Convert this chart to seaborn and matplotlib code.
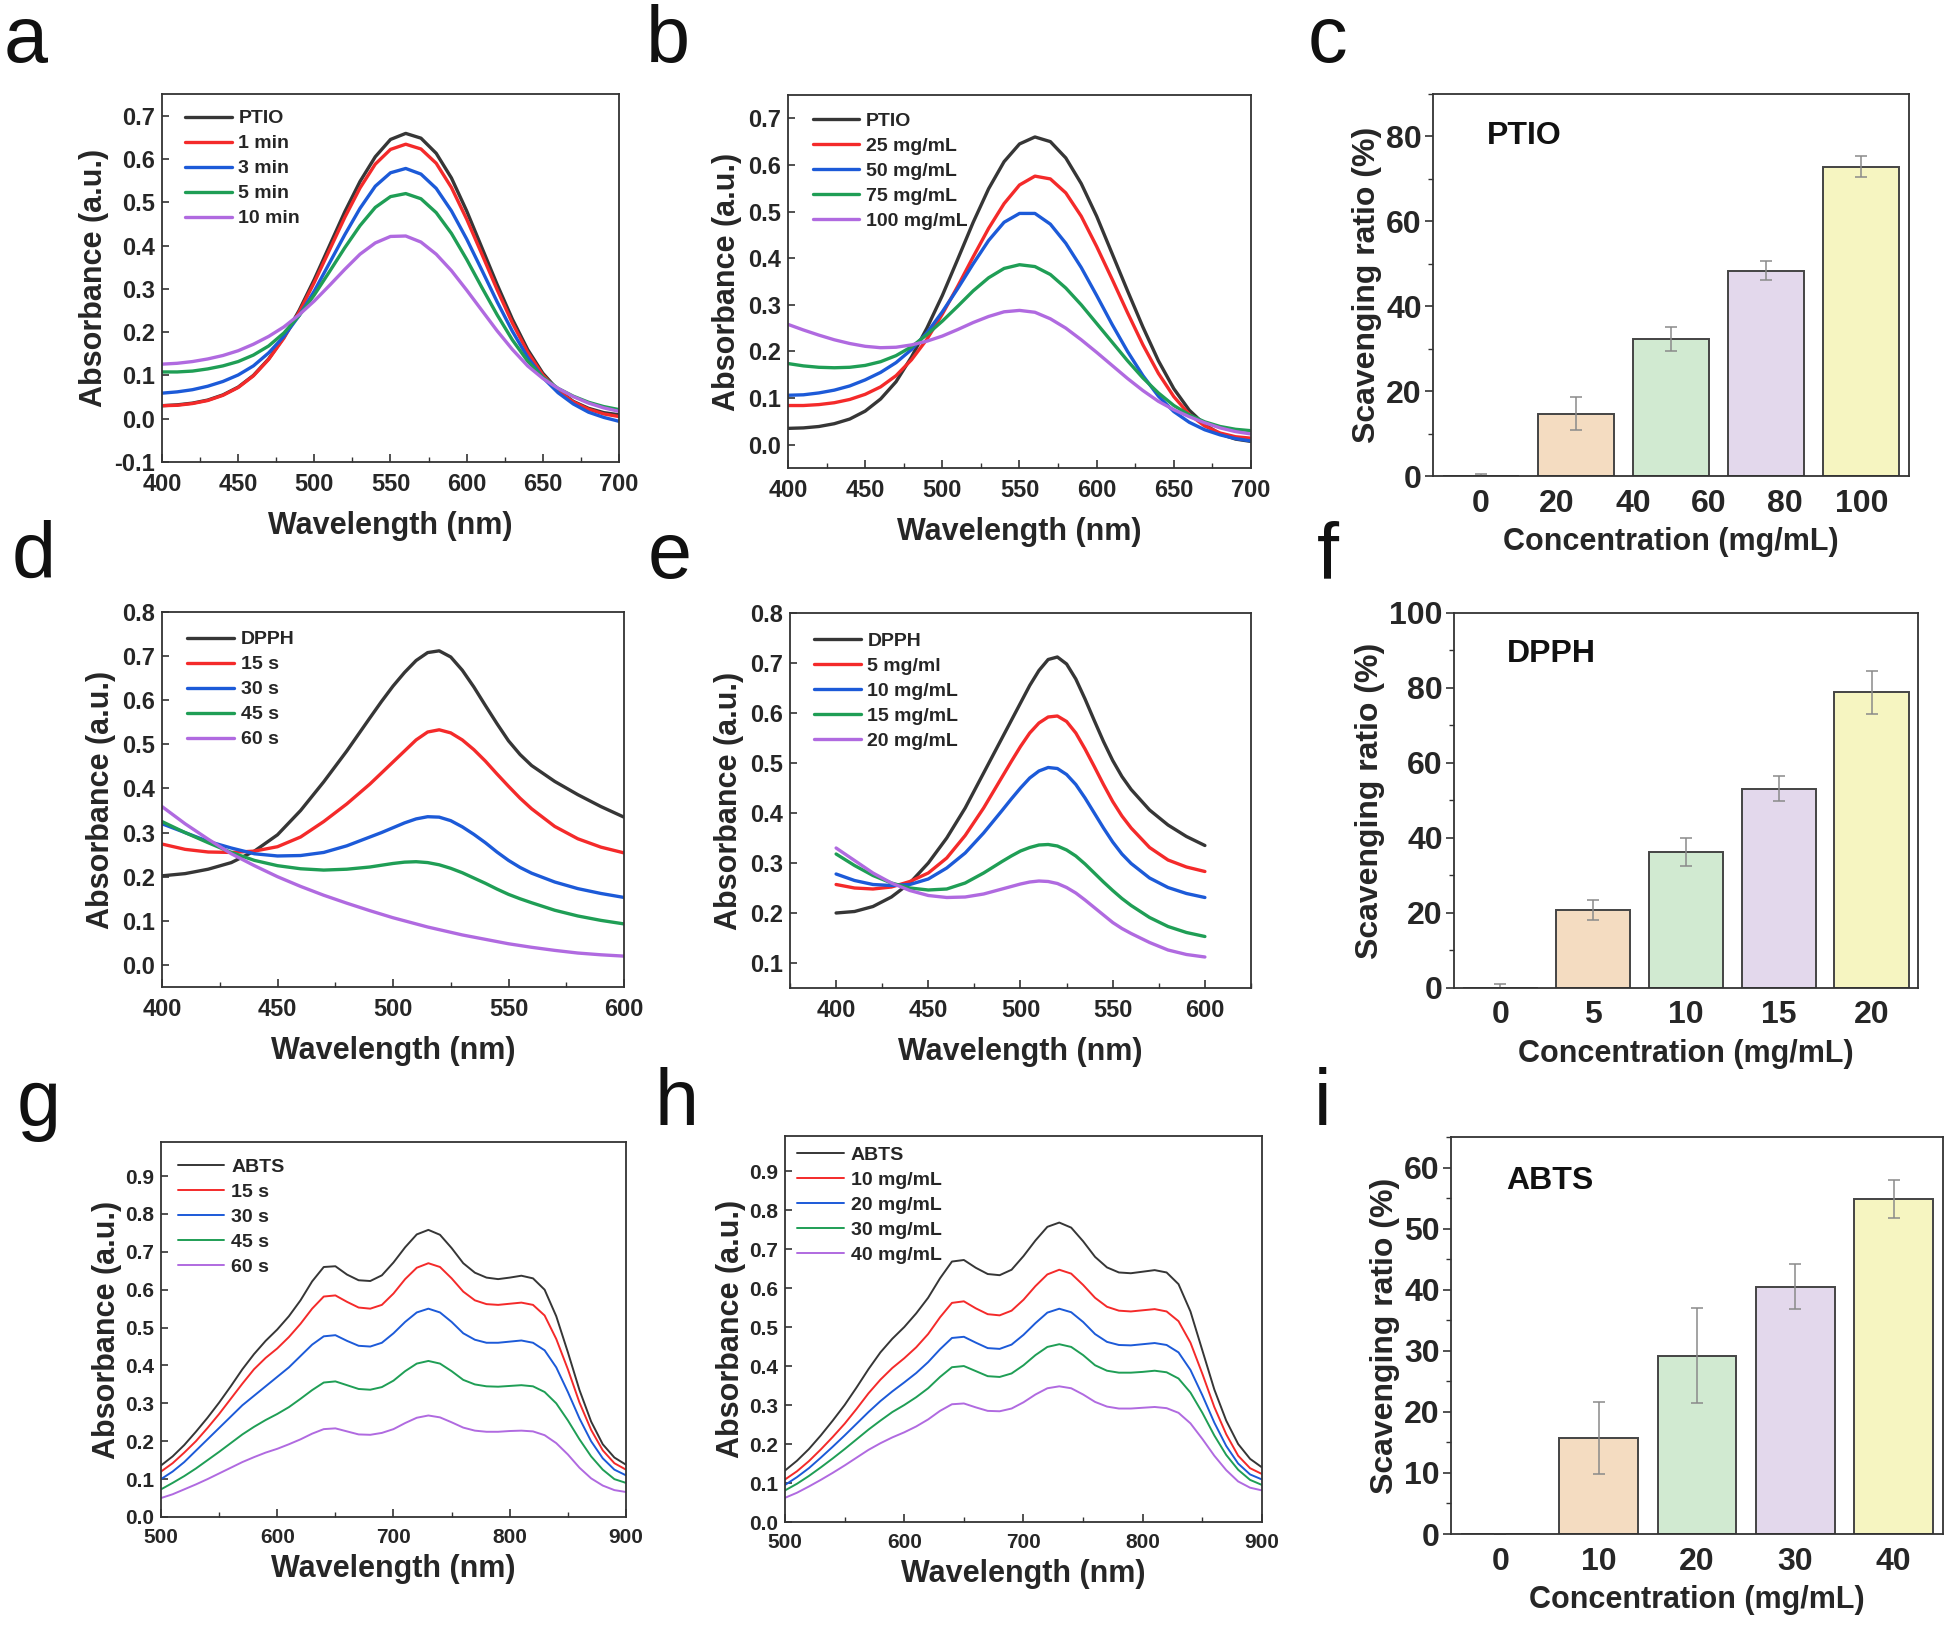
import numpy as np
import matplotlib
matplotlib.use('Agg')
import matplotlib.pyplot as plt
import seaborn as sns
from matplotlib.ticker import MultipleLocator, FormatStrFormatter

sns.set_theme(style='white')
plt.rcParams['font.family'] = ['Liberation Sans', 'DejaVu Sans']
plt.rcParams['font.weight'] = 'bold'
plt.rcParams['axes.labelweight'] = 'bold'
plt.rcParams['axes.unicode_minus'] = False

# ---------------- data ----------------
wl_ab = list(range(400, 701, 10))
wl_de = [400, 410, 420, 430, 440, 450, 460, 470, 480, 490,
         495, 500, 505, 510, 515, 520, 525, 530, 535, 540, 545, 550, 555, 560,
         570, 580, 590, 600]
wl_gh = list(range(500, 901, 10))

# panel a: PTIO vs time
a_labels = ['PTIO', '1 min', '3 min', '5 min', '10 min']
a_ptio = [0.030, 0.032, 0.036, 0.043, 0.055, 0.073, 0.100, 0.138, 0.188, 0.250, 0.322, 0.400, 0.478, 0.548, 0.605, 0.645,
          0.659, 0.648, 0.613, 0.556, 0.480, 0.395, 0.310, 0.230, 0.160, 0.105, 0.066, 0.040, 0.024, 0.014, 0.009]
a_1min = [0.030, 0.031, 0.035, 0.042, 0.054, 0.072, 0.099, 0.137, 0.186, 0.246, 0.315, 0.390, 0.465, 0.533, 0.588, 0.622,
          0.634, 0.623, 0.590, 0.534, 0.461, 0.380, 0.298, 0.221, 0.154, 0.101, 0.064, 0.039, 0.022, 0.011, 0.005]
a_3min = [0.059, 0.062, 0.067, 0.075, 0.086, 0.101, 0.122, 0.152, 0.190, 0.238, 0.295, 0.360, 0.425, 0.486, 0.537, 0.568,
          0.578, 0.565, 0.532, 0.480, 0.415, 0.343, 0.270, 0.202, 0.142, 0.095, 0.060, 0.034, 0.015, 0.003, -0.006]
a_5min = [0.108, 0.108, 0.110, 0.115, 0.122, 0.132, 0.147, 0.168, 0.198, 0.238, 0.286, 0.340, 0.395, 0.446, 0.488, 0.513,
          0.520, 0.508, 0.476, 0.428, 0.368, 0.303, 0.240, 0.182, 0.133, 0.096, 0.070, 0.052, 0.038, 0.028, 0.021]
a_10min = [0.126, 0.128, 0.132, 0.138, 0.146, 0.157, 0.172, 0.190, 0.212, 0.240, 0.272, 0.308, 0.345, 0.380, 0.406, 0.421,
           0.422, 0.408, 0.380, 0.342, 0.297, 0.250, 0.203, 0.160, 0.122, 0.093, 0.070, 0.051, 0.036, 0.025, 0.017]

# panel b: PTIO vs concentration
b_labels = ['PTIO', '25 mg/mL', '50 mg/mL', '75 mg/mL', '100 mg/mL']
b_ptio = [0.035, 0.036, 0.039, 0.045, 0.055, 0.072, 0.098, 0.135, 0.188, 0.250, 0.320, 0.398, 0.477, 0.549, 0.607, 0.645,
          0.660, 0.650, 0.615, 0.560, 0.490, 0.410, 0.330, 0.252, 0.180, 0.120, 0.074, 0.043, 0.023, 0.012, 0.007]
b_25 = [0.084, 0.084, 0.086, 0.090, 0.097, 0.108, 0.124, 0.148, 0.182, 0.226, 0.280, 0.340, 0.403, 0.464, 0.517, 0.557,
        0.576, 0.570, 0.540, 0.490, 0.425, 0.355, 0.283, 0.214, 0.153, 0.103, 0.065, 0.040, 0.025, 0.017, 0.014]
b_50 = [0.106, 0.107, 0.111, 0.117, 0.126, 0.139, 0.155, 0.176, 0.204, 0.240, 0.285, 0.335, 0.388, 0.438, 0.477, 0.496,
        0.496, 0.473, 0.432, 0.380, 0.320, 0.258, 0.200, 0.148, 0.104, 0.071, 0.048, 0.032, 0.021, 0.013, 0.008]
b_75 = [0.174, 0.169, 0.166, 0.165, 0.166, 0.170, 0.178, 0.191, 0.210, 0.236, 0.265, 0.297, 0.330, 0.358, 0.378, 0.386,
        0.382, 0.365, 0.336, 0.300, 0.260, 0.220, 0.180, 0.143, 0.111, 0.084, 0.064, 0.049, 0.039, 0.033, 0.030]
b_100 = [0.258, 0.246, 0.235, 0.225, 0.217, 0.211, 0.208, 0.209, 0.214, 0.222, 0.233, 0.247, 0.262, 0.275, 0.285, 0.288,
         0.284, 0.270, 0.250, 0.225, 0.198, 0.170, 0.142, 0.116, 0.093, 0.075, 0.060, 0.047, 0.036, 0.028, 0.023]

# panel d: DPPH vs time
d_labels = ['DPPH', '15 s', '30 s', '45 s', '60 s']
d_dpph = [0.202, 0.207, 0.217, 0.232, 0.258, 0.295, 0.350, 0.415, 0.485, 0.560,
          0.597, 0.632, 0.663, 0.690, 0.708, 0.712, 0.698, 0.668, 0.630, 0.588, 0.547, 0.508, 0.477, 0.452,
          0.416, 0.386, 0.359, 0.335]
d_15 = [0.274, 0.262, 0.256, 0.255, 0.258, 0.268, 0.290, 0.325, 0.365, 0.410,
        0.435, 0.460, 0.485, 0.510, 0.528, 0.533, 0.526, 0.510, 0.488, 0.462, 0.433, 0.405, 0.378, 0.354,
        0.314, 0.286, 0.267, 0.254]
d_30 = [0.320, 0.300, 0.280, 0.265, 0.252, 0.247, 0.248, 0.255, 0.270, 0.290,
        0.300, 0.311, 0.322, 0.331, 0.336, 0.335, 0.327, 0.313, 0.296, 0.277, 0.256, 0.237, 0.221, 0.208,
        0.188, 0.173, 0.162, 0.153]
d_45 = [0.325, 0.300, 0.277, 0.255, 0.237, 0.225, 0.218, 0.215, 0.217, 0.222,
        0.226, 0.230, 0.233, 0.234, 0.232, 0.227, 0.219, 0.209, 0.197, 0.185, 0.172, 0.160, 0.150, 0.141,
        0.124, 0.111, 0.101, 0.093]
d_60 = [0.359, 0.320, 0.285, 0.252, 0.225, 0.200, 0.178, 0.158, 0.140, 0.123,
        0.115, 0.107, 0.100, 0.093, 0.086, 0.080, 0.074, 0.068, 0.063, 0.058, 0.053, 0.048, 0.044, 0.040,
        0.033, 0.027, 0.023, 0.020]

# panel e: DPPH vs concentration
e_labels = ['DPPH', '5 mg/ml', '10 mg/mL', '15 mg/mL', '20 mg/mL']
e_dpph = [0.200, 0.203, 0.213, 0.232, 0.260, 0.300, 0.350, 0.410, 0.480, 0.550,
          0.585, 0.620, 0.655, 0.685, 0.707, 0.712, 0.698, 0.668, 0.628, 0.585, 0.543, 0.505, 0.473, 0.447,
          0.406, 0.376, 0.353, 0.335]
e_5 = [0.257, 0.250, 0.248, 0.252, 0.263, 0.280, 0.310, 0.355, 0.410, 0.472,
       0.503, 0.533, 0.560, 0.580, 0.592, 0.594, 0.583, 0.560, 0.528, 0.493, 0.457, 0.423, 0.394, 0.370,
       0.331, 0.306, 0.292, 0.283]
e_10 = [0.278, 0.265, 0.257, 0.255, 0.257, 0.268, 0.290, 0.320, 0.360, 0.405,
        0.428, 0.450, 0.470, 0.484, 0.491, 0.489, 0.477, 0.457, 0.430, 0.400, 0.370, 0.342, 0.318, 0.299,
        0.270, 0.251, 0.239, 0.231]
e_15 = [0.318, 0.295, 0.275, 0.260, 0.250, 0.246, 0.248, 0.260, 0.280, 0.303,
        0.314, 0.324, 0.331, 0.336, 0.337, 0.334, 0.326, 0.314, 0.298, 0.280, 0.262, 0.245, 0.229, 0.215,
        0.191, 0.173, 0.161, 0.153]
e_20 = [0.330, 0.305, 0.280, 0.260, 0.245, 0.235, 0.231, 0.232, 0.238, 0.248,
        0.253, 0.258, 0.262, 0.264, 0.263, 0.259, 0.251, 0.240, 0.226, 0.211, 0.196, 0.181, 0.169, 0.159,
        0.141, 0.126, 0.117, 0.112]

# panel g: ABTS vs time
g_labels = ['ABTS', '15 s', '30 s', '45 s', '60 s']
g_abts = [0.136, 0.160, 0.190, 0.225, 0.262, 0.302, 0.345, 0.390, 0.430, 0.465, 0.495, 0.530, 0.572, 0.622,
          0.660, 0.662, 0.640, 0.625, 0.623, 0.638, 0.672, 0.712, 0.746, 0.758, 0.745, 0.710, 0.670, 0.645,
          0.632, 0.628, 0.632, 0.637, 0.630, 0.600, 0.530, 0.435, 0.335, 0.252, 0.192, 0.157, 0.138]
g_15 = [0.120, 0.142, 0.170, 0.200, 0.235, 0.272, 0.312, 0.352, 0.390, 0.420, 0.445, 0.475, 0.510, 0.550,
        0.582, 0.585, 0.568, 0.553, 0.550, 0.560, 0.590, 0.628, 0.658, 0.670, 0.660, 0.630, 0.595, 0.572,
        0.562, 0.560, 0.563, 0.566, 0.560, 0.532, 0.470, 0.390, 0.302, 0.230, 0.176, 0.142, 0.125]
g_30 = [0.100, 0.120, 0.145, 0.175, 0.205, 0.235, 0.265, 0.295, 0.320, 0.345, 0.370, 0.395, 0.425, 0.455,
        0.477, 0.480, 0.465, 0.452, 0.450, 0.460, 0.485, 0.515, 0.540, 0.550, 0.540, 0.515, 0.485, 0.468,
        0.460, 0.460, 0.463, 0.466, 0.460, 0.440, 0.395, 0.330, 0.260, 0.200, 0.155, 0.125, 0.110]
g_45 = [0.073, 0.090, 0.108, 0.128, 0.150, 0.172, 0.195, 0.218, 0.238, 0.256, 0.272, 0.290, 0.312, 0.335,
        0.355, 0.358, 0.348, 0.338, 0.336, 0.343, 0.360, 0.385, 0.405, 0.412, 0.405, 0.385, 0.362, 0.350,
        0.345, 0.344, 0.346, 0.348, 0.345, 0.330, 0.300, 0.255, 0.205, 0.160, 0.125, 0.100, 0.090]
g_60 = [0.050, 0.060, 0.073, 0.086, 0.100, 0.115, 0.130, 0.145, 0.158, 0.170, 0.180, 0.192, 0.205, 0.220,
        0.232, 0.234, 0.226, 0.218, 0.217, 0.222, 0.232, 0.248, 0.262, 0.268, 0.263, 0.250, 0.236, 0.228,
        0.225, 0.225, 0.227, 0.228, 0.226, 0.216, 0.195, 0.165, 0.130, 0.102, 0.083, 0.071, 0.066]

# panel h: ABTS vs concentration
h_labels = ['ABTS', '10 mg/mL', '20 mg/mL', '30 mg/mL', '40 mg/mL']
h_abts = [0.132, 0.157, 0.187, 0.222, 0.260, 0.300, 0.345, 0.392, 0.435, 0.470, 0.500, 0.535, 0.575, 0.625,
          0.668, 0.672, 0.652, 0.636, 0.633, 0.647, 0.682, 0.722, 0.757, 0.768, 0.755, 0.720, 0.680, 0.653,
          0.640, 0.638, 0.642, 0.646, 0.640, 0.610, 0.540, 0.440, 0.340, 0.260, 0.200, 0.162, 0.140]
h_10 = [0.109, 0.130, 0.156, 0.186, 0.218, 0.252, 0.290, 0.330, 0.365, 0.395, 0.420, 0.448, 0.482, 0.525,
        0.562, 0.566, 0.548, 0.533, 0.530, 0.542, 0.570, 0.605, 0.635, 0.647, 0.637, 0.608, 0.575, 0.552,
        0.542, 0.540, 0.543, 0.546, 0.540, 0.515, 0.460, 0.380, 0.295, 0.225, 0.170, 0.138, 0.123]
h_20 = [0.095, 0.115, 0.138, 0.165, 0.193, 0.222, 0.252, 0.282, 0.310, 0.335, 0.358, 0.382, 0.410, 0.443,
        0.472, 0.475, 0.460, 0.446, 0.444, 0.455, 0.480, 0.510, 0.537, 0.547, 0.538, 0.513, 0.482, 0.462,
        0.454, 0.453, 0.456, 0.459, 0.454, 0.435, 0.390, 0.325, 0.255, 0.195, 0.150, 0.122, 0.109]
h_30 = [0.081, 0.098, 0.118, 0.140, 0.163, 0.187, 0.212, 0.237, 0.260, 0.282, 0.300, 0.320, 0.343, 0.372,
        0.397, 0.400, 0.387, 0.374, 0.372, 0.381, 0.402, 0.428, 0.449, 0.456, 0.449, 0.428, 0.402, 0.388,
        0.383, 0.383, 0.385, 0.388, 0.384, 0.368, 0.332, 0.280, 0.222, 0.172, 0.134, 0.108, 0.095]
h_40 = [0.062, 0.075, 0.091, 0.108, 0.126, 0.145, 0.165, 0.185, 0.202, 0.217, 0.230, 0.245, 0.263, 0.285,
        0.302, 0.304, 0.294, 0.285, 0.284, 0.291, 0.307, 0.327, 0.343, 0.348, 0.343, 0.327, 0.308, 0.296,
        0.291, 0.291, 0.293, 0.295, 0.292, 0.280, 0.253, 0.213, 0.170, 0.133, 0.104, 0.088, 0.081]

# bar panels c, f, i: scavenging ratio (%)
c_conc = ['0', '25', '50', '75', '100']
c_ratio = [0.0, 14.7, 32.3, 48.4, 72.9]
c_err = [0.4, 3.8, 2.9, 2.3, 2.4]
c_ticklabels = ['0', '20', '40', '60', '80', '100']

f_conc = ['0', '5', '10', '15', '20']
f_ratio = [0.0, 20.7, 36.3, 53.1, 78.8]
f_err = [1.0, 2.7, 3.8, 3.3, 5.7]

i_conc = ['0', '10', '20', '30', '40']
i_ratio = [0.0, 15.7, 29.2, 40.5, 54.8]
i_err = [0.0, 5.9, 7.8, 3.7, 3.1]

line_colors = ['#363636', '#f42a2a', '#1c5ad8', '#1f9e55', '#b06ae0']
bar_colors = ['#ffffff', '#fddcb8', '#cdeecd', '#e3d4f0', '#fffdb8']

W, H = 1949, 1627
fig = plt.figure(figsize=(W / 100, H / 100), dpi=100)


def add_ax(left, top, right, bottom):
    return fig.add_axes([left / W, 1 - bottom / H, (right - left) / W, (bottom - top) / H])


def style_spines(ax):
    for s in ax.spines.values():
        s.set_color('#333333')
        s.set_linewidth(1.3)


def spectrum(ax, wl, curves, labels, xlim, ylim, yticks, xmajor, xminor, lw, tick_fs, anchor,
             xpad=11, ypad=4):
    for vals, lab, col in zip(curves, labels, line_colors):
        sns.lineplot(x=wl, y=vals, ax=ax, color=col, linewidth=lw, label=lab)
    ax.set_xlim(xlim)
    ax.set_ylim(ylim)
    ax.xaxis.set_major_locator(MultipleLocator(xmajor))
    ax.xaxis.set_minor_locator(MultipleLocator(xminor))
    ax.set_yticks(yticks)
    ax.yaxis.set_major_formatter(FormatStrFormatter('%.1f'))
    ax.tick_params(axis='x', which='major', direction='in', length=6, width=1.2, pad=8,
                   labelsize=tick_fs, color='#333333', bottom=True)
    ax.tick_params(axis='x', which='minor', direction='in', length=3.5, width=1.0, bottom=True, color='#333333')
    ax.tick_params(axis='y', direction='in', length=5, width=1.2, pad=5, labelsize=tick_fs,
                   color='#333333', left=True)
    ax.set_xlabel('Wavelength (nm)', fontsize=22, labelpad=xpad)
    ax.set_ylabel('Absorbance (a.u.)', fontsize=22, labelpad=ypad)
    style_spines(ax)
    ax.legend(loc='upper left', bbox_to_anchor=anchor, frameon=False, borderaxespad=0, borderpad=0,
              prop={'weight': 'bold', 'size': 14}, handlelength=2.4, handletextpad=0.35, labelspacing=0.38)


def bars(ax, conc, ratio, err, ylim, ymajor, yminor, name, ticks=None, ticklabels=None):
    sns.barplot(x=conc, y=ratio, hue=conc, palette=bar_colors, legend=False, ax=ax,
                edgecolor='#444444', linewidth=1.4, width=0.8, errorbar=None)
    ax.errorbar(range(len(conc)), ratio, yerr=err, fmt='none', ecolor='#8a8a8a',
                elinewidth=1.1, capsize=4, capthick=1.1)
    ax.set_xlim(-0.5, 4.5)
    ax.set_ylim(ylim)
    ax.yaxis.set_major_locator(MultipleLocator(ymajor))
    ax.yaxis.set_minor_locator(MultipleLocator(yminor))
    if ticks is not None:
        ax.set_xticks(ticks)
        ax.set_xticklabels(ticklabels)
    ax.tick_params(axis='x', length=0, pad=9, labelsize=23)
    ax.tick_params(axis='y', which='major', direction='out', length=6, width=1.2, pad=2,
                   labelsize=23, left=True, color='#333333')
    ax.tick_params(axis='y', which='minor', direction='out', length=3.5, width=1.0, left=True, color='#333333')
    ax.set_xlabel('Concentration (mg/mL)', fontsize=22, labelpad=6)
    ax.set_ylabel('Scavenging ratio (%)', fontsize=23, labelpad=3)
    ax.text(0.113, 0.89, name, transform=ax.transAxes, fontsize=23, fontweight='bold',
            ha='left', va='center', color='#111111')
    style_spines(ax)


ax_a = add_ax(162, 94, 619, 462)
spectrum(ax_a, wl_ab, [a_ptio, a_1min, a_3min, a_5min, a_10min], a_labels, (400, 700), (-0.1, 0.75),
         [-0.1, 0.0, 0.1, 0.2, 0.3, 0.4, 0.5, 0.6, 0.7], 50, 25, 2.4, 17, (0.05, 0.957))

ax_b = add_ax(788, 95, 1251, 468)
spectrum(ax_b, wl_ab, [b_ptio, b_25, b_50, b_75, b_100], b_labels, (400, 700), (-0.05, 0.75),
         [0.0, 0.1, 0.2, 0.3, 0.4, 0.5, 0.6, 0.7], 50, 25, 2.4, 17, (0.053, 0.954))

ax_c = add_ax(1433, 94, 1909, 476)
bars(ax_c, c_conc, c_ratio, c_err, (0, 90), 20, 10, 'PTIO',
     ticks=np.linspace(0, 4, 6), ticklabels=c_ticklabels)

ax_d = add_ax(162, 612, 624, 987)
spectrum(ax_d, wl_de, [d_dpph, d_15, d_30, d_45, d_60], d_labels, (400, 600), (-0.05, 0.8),
         [0.0, 0.1, 0.2, 0.3, 0.4, 0.5, 0.6, 0.7, 0.8], 50, 25, 2.4, 17, (0.055, 0.95))

ax_e = add_ax(790, 613, 1251, 988)
spectrum(ax_e, wl_de, [e_dpph, e_5, e_10, e_15, e_20], e_labels, (375, 625), (0.05, 0.8),
         [0.1, 0.2, 0.3, 0.4, 0.5, 0.6, 0.7, 0.8], 50, 25, 2.4, 17, (0.052, 0.948))

ax_f = add_ax(1454, 613, 1918, 988)
bars(ax_f, f_conc, f_ratio, f_err, (0, 100), 20, 10, 'DPPH')

ax_g = add_ax(161, 1142, 626, 1517)
spectrum(ax_g, wl_gh, [g_abts, g_15, g_30, g_45, g_60], g_labels, (500, 900), (0, 0.99),
         [0.0, 0.1, 0.2, 0.3, 0.4, 0.5, 0.6, 0.7, 0.8, 0.9], 100, 50, 1.4, 15, (0.036, 0.957),
         xpad=5, ypad=2)

ax_h = add_ax(785, 1136, 1262, 1522)
spectrum(ax_h, wl_gh, [h_abts, h_10, h_20, h_30, h_40], h_labels, (500, 900), (0, 0.99),
         [0.0, 0.1, 0.2, 0.3, 0.4, 0.5, 0.6, 0.7, 0.8, 0.9], 100, 50, 1.4, 15, (0.026, 0.973),
         xpad=5, ypad=2)

ax_i = add_ax(1451, 1137, 1943, 1534)
bars(ax_i, i_conc, i_ratio, i_err, (0, 65), 10, 5, 'ABTS')

# panel letters
letters = [('a', 4, 62), ('b', 646, 62), ('c', 1308, 62),
           ('d', 12, 578), ('e', 648, 578), ('f', 1317, 578),
           ('g', 17, 1125), ('h', 655, 1125), ('i', 1314, 1125)]
for txt, x, y in letters:
    fig.text(x / W, 1 - y / H, txt, fontsize=57, fontweight='normal', ha='left', va='baseline', color='#111111')

fig.savefig('out.png', dpi=100, facecolor='white')
